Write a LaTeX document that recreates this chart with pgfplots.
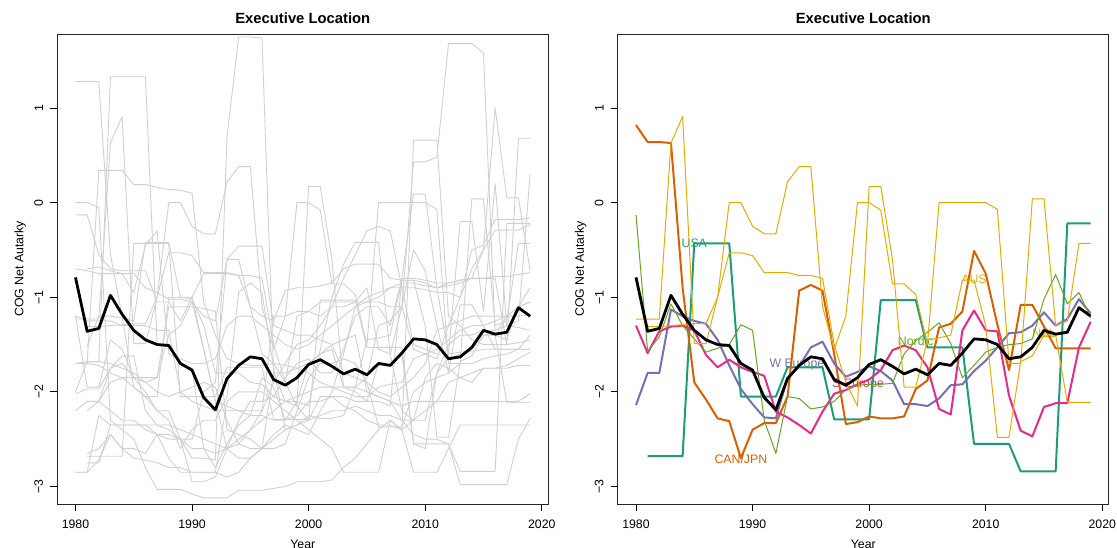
\documentclass[border=0pt]{standalone}
\usepackage{fontspec}
\setmainfont{Liberation Sans}
\usepackage{pgfplots}
\usepackage{pgfplotstable}
\pgfplotsset{compat=1.18}

\definecolor{usa}{HTML}{1B9E77}
\definecolor{canjpn}{HTML}{D95F02}
\definecolor{weur}{HTML}{7570B3}
\definecolor{seur}{HTML}{E7298A}
\definecolor{nordic}{HTML}{66A61E}
\definecolor{ausnzl}{HTML}{E6AB02}
\definecolor{cntry}{HTML}{D0D0D0}

% group and country series
\pgfplotstableread[row sep=\\]{x y\\1980 -0.79\\1981 -1.36\\1982 -1.33\\1983 -0.98\\1984 -1.18\\1985 -1.35\\1986 -1.45\\1987 -1.50\\1988 -1.51\\1989 -1.70\\1990 -1.77\\1991 -2.06\\1992 -2.19\\1993 -1.86\\1994 -1.72\\1995 -1.63\\1996 -1.65\\1997 -1.87\\1998 -1.93\\1999 -1.85\\2000 -1.71\\2001 -1.66\\2002 -1.73\\2003 -1.81\\2004 -1.76\\2005 -1.82\\2006 -1.70\\2007 -1.72\\2008 -1.59\\2009 -1.44\\2010 -1.45\\2011 -1.50\\2012 -1.65\\2013 -1.63\\2014 -1.53\\2015 -1.35\\2016 -1.39\\2017 -1.37\\2018 -1.11\\2019 -1.20\\}\meanline
\pgfplotstableread[row sep=\\]{x y\\1981 -2.68\\1982 -2.68\\1983 -2.68\\1984 -2.68\\1985 -0.43\\1986 -0.43\\1987 -0.43\\1988 -0.43\\1989 -2.05\\1990 -2.05\\1991 -2.05\\1992 -2.05\\1993 -1.74\\1994 -1.74\\1995 -1.74\\1996 -1.74\\1997 -2.29\\1998 -2.29\\1999 -2.29\\2000 -2.29\\2001 -1.03\\2002 -1.03\\2003 -1.03\\2004 -1.03\\2005 -1.53\\2006 -1.53\\2007 -1.53\\2008 -1.53\\2009 -2.55\\2010 -2.55\\2011 -2.55\\2012 -2.55\\2013 -2.84\\2014 -2.84\\2015 -2.84\\2016 -2.84\\2017 -0.22\\2018 -0.22\\2019 -0.22\\}\usa
\pgfplotstableread[row sep=\\]{x y\\1980 -1.23\\1981 -1.23\\1982 -1.23\\1983 0.63\\1984 0.91\\1985 -1.49\\1986 -1.49\\1987 -1.00\\1988 -0.53\\1989 -0.53\\1990 -0.56\\1991 -0.74\\1992 -0.74\\1993 -0.74\\1994 -0.77\\1995 -0.77\\1996 -0.80\\1997 -1.50\\1998 -1.90\\1999 -2.15\\2000 0.17\\2001 0.17\\2002 -0.60\\2003 -1.95\\2004 -1.95\\2005 -1.45\\2006 -1.43\\2007 -1.40\\2008 -0.82\\2009 -0.82\\2010 -1.30\\2011 -2.48\\2012 -2.48\\2013 -1.68\\2014 -1.62\\2015 -1.40\\2016 -1.40\\2017 -2.11\\2018 -2.11\\2019 -2.11\\}\aus
\pgfplotstableread[row sep=\\]{x y\\1981 -1.31\\1982 -1.31\\1983 -1.30\\1984 -1.29\\1985 -1.28\\1986 -1.28\\1987 -1.00\\1988 0.00\\1989 0.00\\1990 -0.25\\1991 -0.33\\1992 -0.33\\1993 0.22\\1994 0.38\\1995 0.38\\1996 -1.10\\1997 -1.55\\1998 -1.20\\1999 0.00\\2000 0.00\\2001 -0.08\\2002 -0.86\\2003 -0.86\\2004 -0.97\\2005 -1.50\\2006 0.00\\2007 0.00\\2008 0.00\\2009 0.00\\2010 0.00\\2011 -0.07\\2012 -1.70\\2013 -1.70\\2014 0.04\\2015 0.04\\2016 -1.30\\2017 -1.25\\2018 -0.43\\2019 -0.43\\}\nzl
\pgfplotstableread[row sep=\\]{x y\\1980 0.82\\1981 0.64\\1982 0.64\\1983 0.63\\1984 -0.90\\1985 -1.90\\1986 -2.08\\1987 -2.28\\1988 -2.31\\1989 -2.70\\1990 -2.40\\1991 -2.33\\1992 -2.33\\1993 -2.05\\1994 -0.93\\1995 -0.87\\1996 -0.93\\1997 -1.60\\1998 -2.34\\1999 -2.32\\2000 -2.26\\2001 -2.28\\2002 -2.28\\2003 -2.26\\2004 -1.97\\2005 -1.88\\2006 -1.32\\2007 -1.28\\2008 -1.15\\2009 -0.51\\2010 -0.75\\2011 -1.29\\2012 -1.77\\2013 -1.08\\2014 -1.08\\2015 -1.31\\2016 -1.54\\2017 -1.54\\2018 -1.54\\2019 -1.54\\}\canjpn
\pgfplotstableread[row sep=\\]{x y\\1980 -2.14\\1981 -1.80\\1982 -1.80\\1983 -1.13\\1984 -1.20\\1985 -1.25\\1986 -1.28\\1987 -1.45\\1988 -1.72\\1989 -1.97\\1990 -2.13\\1991 -2.27\\1992 -2.28\\1993 -1.85\\1994 -1.73\\1995 -1.53\\1996 -1.47\\1997 -1.70\\1998 -1.84\\1999 -1.79\\2000 -1.73\\2001 -1.78\\2002 -1.88\\2003 -2.13\\2004 -2.13\\2005 -2.15\\2006 -2.07\\2007 -1.93\\2008 -1.92\\2009 -1.78\\2010 -1.67\\2011 -1.53\\2012 -1.38\\2013 -1.37\\2014 -1.30\\2015 -1.16\\2016 -1.30\\2017 -1.23\\2018 -1.02\\2019 -1.17\\}\weur
\pgfplotstableread[row sep=\\]{x y\\1980 -1.30\\1981 -1.59\\1982 -1.36\\1983 -1.31\\1984 -1.30\\1985 -1.35\\1986 -1.61\\1987 -1.74\\1988 -1.66\\1989 -1.74\\1990 -1.79\\1991 -1.83\\1992 -2.21\\1993 -2.27\\1994 -2.35\\1995 -2.44\\1996 -2.21\\1997 -2.02\\1998 -1.98\\1999 -1.92\\2000 -1.87\\2001 -1.77\\2002 -1.56\\2003 -1.51\\2004 -1.56\\2005 -1.74\\2006 -2.18\\2007 -2.24\\2008 -1.35\\2009 -1.14\\2010 -1.35\\2011 -1.36\\2012 -2.04\\2013 -2.41\\2014 -2.47\\2015 -2.16\\2016 -2.12\\2017 -2.12\\2018 -1.53\\2019 -1.26\\}\seur
\pgfplotstableread[row sep=\\]{x y\\1980 -0.13\\1981 -1.57\\1982 -1.42\\1983 -1.07\\1984 -1.30\\1985 -1.44\\1986 -1.58\\1987 -1.54\\1988 -1.50\\1989 -1.29\\1990 -1.35\\1991 -2.30\\1992 -2.65\\1993 -2.05\\1994 -2.07\\1995 -2.18\\1996 -2.16\\1997 -2.10\\1998 -1.98\\1999 -1.93\\2000 -1.92\\2001 -1.92\\2002 -1.91\\2003 -1.60\\2004 -1.46\\2005 -1.37\\2006 -1.27\\2007 -1.49\\2008 -1.85\\2009 -1.72\\2010 -1.58\\2011 -1.53\\2012 -1.50\\2013 -1.49\\2014 -1.44\\2015 -1.02\\2016 -0.76\\2017 -1.07\\2018 -0.95\\2019 -1.22\\}\nordic

\pgfplotsset{
  rpanel/.style={
    width=491pt, height=470pt, scale only axis,
    xmin=1978.44, xmax=2020.56, ymin=-3.185, ymax=1.782,
    axis line style={line width=0.9pt, black!85},
    xtick={1980,1990,2000,2010,2020}, ytick={-3,-2,-1,0,1},
    xticklabels={1980,1990,2000,2010,2020},
    yticklabels={−3,−2,−1,0,1},
    tick align=outside, tickpos=left, major tick length=7pt,
    tick style={line width=0.9pt, black},
    ticklabel style={font=\fontsize{12.3}{14}\selectfont, inner sep=0pt},
    xticklabel style={anchor=north},
    yticklabel style={rotate=90, anchor=south},
    xticklabel shift=9pt, yticklabel shift=7pt,
    title={Executive Location},
    every axis title/.style={at={(axis description cs:0.5,1.022)}, anchor=base,
      font=\bfseries\fontsize{14.8}{17}\selectfont},
    xlabel={Year}, ylabel={COG Net Autarky},
    every axis x label/.style={at={(axis description cs:0.5,-0.094)}, anchor=base,
      font=\fontsize{12.3}{14}\selectfont},
    every axis y label/.style={at={(axis description cs:-0.0692,0.5)}, rotate=90,
      anchor=base, font=\fontsize{12.3}{14}\selectfont},
    clip=true, unbounded coords=jump,
  },
  gl/.style={cntry, line width=0.9pt, line join=round},
  thk/.style={line width=2pt, line join=round},
  thn/.style={line width=1pt, line join=round},
  mn/.style={black, line width=2.8pt, line join=round},
}

\begin{document}
\begin{tikzpicture}
\useasboundingbox (0,0) rectangle (1117pt,548pt);

% ---- left: every country in grey ----
\begin{axis}[rpanel, at={(57.3pt,44pt)}, anchor=south west]
\addplot[gl] table {\aus};
\addplot[gl] table {\nzl};
\addplot[gl] table {\usa};
\addplot[gl] coordinates {(1980,1.28)(1981,1.28)(1982,1.28)(1983,-0.55)(1984,-1.20)(1985,-1.95)(1986,-2.05)(1987,-2.20)(1988,-2.30)(1989,-2.60)(1990,-2.40)(1991,-2.30)(1992,-2.30)(1993,-2.05)(1994,-0.95)(1995,-0.85)(1996,-0.95)(1997,-1.75)(1998,-2.40)(1999,-2.35)(2000,-2.25)(2001,-2.28)(2002,-2.28)(2003,-2.25)(2004,-1.95)(2005,-1.85)(2006,-1.30)(2007,-1.25)(2008,-1.10)(2009,-0.50)(2010,-0.72)(2011,-1.30)(2012,-1.80)(2013,-1.08)(2014,-1.08)(2015,-1.30)(2016,-1.55)(2017,-1.55)(2018,-1.55)(2019,-1.55)};
\addplot[gl] coordinates {(1980,-1.70)(1981,-1.68)(1982,-1.68)(1983,1.33)(1984,1.33)(1985,1.33)(1986,1.33)(1987,-1.50)(1988,-1.52)(1989,-1.70)(1990,-1.75)(1991,-2.60)(1992,-2.80)(1993,-2.55)(1994,-2.35)(1995,-2.25)(1996,-1.85)(1997,-1.95)(1998,-2.30)(1999,-2.10)(2000,-1.70)(2001,-1.60)(2002,-1.55)(2003,-1.95)(2004,-2.00)(2005,-2.10)(2006,-1.70)(2007,-1.72)(2008,-1.60)(2009,-2.55)(2010,-2.60)(2011,-1.80)(2012,-1.65)(2013,-1.60)(2014,-1.55)(2015,-1.40)(2016,-1.40)(2017,-1.20)(2018,-1.10)(2019,-1.05)};
\addplot[gl] coordinates {(1980,-2.02)(1981,-1.97)(1982,-1.97)(1983,-1.75)(1984,-1.70)(1985,-1.85)(1986,-2.00)(1987,-2.20)(1988,-2.20)(1989,-2.50)(1990,-2.70)(1991,-2.70)(1992,-2.72)(1993,0.70)(1994,1.75)(1995,1.75)(1996,1.74)(1997,-1.80)(1998,-2.10)(1999,-2.15)(2000,-2.30)(2001,-2.05)(2002,-2.05)(2003,-2.15)(2004,-2.20)(2005,-2.30)(2006,-2.35)(2007,-2.35)(2008,-2.40)(2009,-2.30)(2010,-1.85)(2011,-1.70)(2012,-1.75)(2013,-1.85)(2014,-1.90)(2015,-1.75)(2016,-1.75)(2017,-1.72)(2018,-1.65)(2019,-1.58)};
\addplot[gl] coordinates {(1980,-1.20)(1981,-1.95)(1982,-1.95)(1983,-1.45)(1984,-1.55)(1985,-1.85)(1986,-1.90)(1987,-1.85)(1988,-1.40)(1989,-1.30)(1990,-1.05)(1991,-1.20)(1992,-1.25)(1993,-0.60)(1994,-0.60)(1995,-1.10)(1996,-1.60)(1997,-1.70)(1998,-1.90)(1999,-1.20)(2000,-1.15)(2001,-1.20)(2002,-1.10)(2003,-1.10)(2004,-1.05)(2005,-0.90)(2006,-1.55)(2007,-1.60)(2008,-1.10)(2009,0.43)(2010,0.43)(2011,0.48)(2012,1.68)(2013,1.68)(2014,1.68)(2015,1.58)(2016,-1.40)(2017,-1.45)(2018,-1.10)(2019,-0.90)};
\addplot[gl] coordinates {(1980,-2.85)(1981,-2.85)(1982,-2.72)(1983,-2.45)(1984,-2.60)(1985,-2.60)(1986,-2.65)(1987,-2.45)(1988,-2.45)(1989,-2.50)(1990,-2.95)(1991,-2.95)(1992,-2.90)(1993,-2.60)(1994,-2.30)(1995,-2.10)(1996,-2.10)(1997,-2.05)(1998,-1.85)(1999,-1.70)(2000,-1.65)(2001,-1.80)(2002,-1.80)(2003,-1.55)(2004,-1.20)(2005,-1.10)(2006,-1.10)(2007,-1.30)(2008,-0.80)(2009,-0.80)(2010,-0.82)(2011,-0.85)(2012,-0.85)(2013,-0.82)(2014,-0.80)(2015,-0.50)(2016,1.00)(2017,0.05)(2018,0.05)(2019,-0.72)};
\addplot[gl] coordinates {(1980,-0.13)(1981,-0.13)(1982,-0.55)(1983,-0.70)(1984,-0.72)(1985,-0.72)(1986,-0.72)(1987,-1.05)(1988,-1.05)(1989,-1.25)(1990,-1.00)(1991,-0.75)(1992,-0.75)(1993,-0.75)(1994,-0.77)(1995,-1.10)(1996,-1.20)(1997,-1.25)(1998,-0.93)(1999,-0.90)(2000,-0.90)(2001,-0.88)(2002,-0.85)(2003,-0.70)(2004,-0.65)(2005,-0.65)(2006,-0.65)(2007,-0.80)(2008,-0.82)(2009,-0.82)(2010,-0.85)(2011,-0.90)(2012,-0.88)(2013,-0.85)(2014,-0.80)(2015,-0.80)(2016,-0.80)(2017,-1.50)(2018,0.68)(2019,0.68)};
\addplot[gl] coordinates {(1980,0.00)(1981,0.00)(1982,-0.05)(1983,-2.30)(1984,-2.40)(1985,-2.50)(1986,-2.80)(1987,-3.03)(1988,-3.03)(1989,-3.03)(1990,-3.08)(1991,-3.12)(1992,-3.12)(1993,-3.12)(1994,-3.04)(1995,-3.04)(1996,-3.04)(1997,-3.02)(1998,-3.00)(1999,-2.95)(2000,-2.95)(2001,-2.95)(2002,-2.93)(2003,-2.80)(2004,-2.70)(2005,-2.55)(2006,-2.40)(2007,-2.30)(2008,-2.40)(2009,0.66)(2010,0.66)(2011,0.66)(2012,-1.20)(2013,-1.30)(2014,-1.45)(2015,-1.50)(2016,-1.50)(2017,-1.50)(2018,-1.48)(2019,-1.45)};
\addplot[gl] coordinates {(1980,-1.70)(1981,-1.70)(1982,0.34)(1983,0.34)(1984,0.34)(1985,0.19)(1986,0.19)(1987,0.16)(1988,0.14)(1989,0.13)(1990,0.10)(1991,-1.05)(1992,-1.40)(1993,-1.65)(1994,-1.70)(1995,-1.72)(1996,-1.72)(1997,-1.70)(1998,-1.72)(1999,-1.75)(2000,-1.80)(2001,-1.90)(2002,-1.95)(2003,-2.00)(2004,-2.05)(2005,-2.05)(2006,-1.95)(2007,-1.92)(2008,-1.90)(2009,-1.65)(2010,-1.60)(2011,-1.55)(2012,-1.45)(2013,-1.35)(2014,-1.30)(2015,-1.30)(2016,-1.25)(2017,-1.20)(2018,-1.20)(2019,-1.18)};
\addplot[gl] coordinates {(1980,-2.20)(1981,-2.10)(1982,-2.10)(1983,-1.75)(1984,-1.62)(1985,-1.62)(1986,-2.20)(1987,-2.35)(1988,-2.35)(1989,-2.40)(1990,-2.45)(1991,-2.50)(1992,-2.55)(1993,-2.60)(1994,-2.55)(1995,-2.40)(1996,-2.20)(1997,-1.90)(1998,-1.70)(1999,-1.50)(2000,-1.45)(2001,-1.30)(2002,-1.10)(2003,-0.80)(2004,-0.55)(2005,-0.30)(2006,-0.25)(2007,-0.30)(2008,-0.90)(2009,-1.50)(2010,-1.55)(2011,-1.60)(2012,-1.60)(2013,-1.58)(2014,-1.57)(2015,-1.55)(2016,-1.55)(2017,-1.55)(2018,-1.55)(2019,-1.55)};
\addplot[gl] coordinates {(1981,-1.52)(1982,-1.20)(1983,-1.20)(1984,-1.22)(1985,-1.25)(1986,-0.42)(1987,-0.42)(1988,-0.42)(1989,-1.00)(1990,-1.02)(1991,-1.30)(1992,-1.80)(1993,-1.80)(1994,-1.80)(1995,-1.90)(1996,-1.92)(1997,-2.05)(1998,-2.10)(1999,-2.10)(2000,-2.15)(2001,-1.55)(2002,-1.00)(2003,-0.65)(2004,-0.42)(2005,-0.42)(2006,-0.42)(2007,-1.60)(2008,-2.20)(2009,-2.30)(2010,-2.30)(2011,-1.80)(2012,-1.50)(2013,-1.40)(2014,-1.40)(2015,-1.35)(2016,-1.35)(2017,-1.30)(2018,-1.32)(2019,-1.35)};
\addplot[gl] coordinates {(1980,-1.20)(1981,-1.25)(1982,-1.25)(1983,-1.25)(1984,-1.30)(1985,-1.30)(1986,-1.30)(1987,-1.35)(1988,-1.35)(1989,-2.00)(1990,-2.10)(1991,-2.15)(1992,-2.20)(1993,-2.20)(1994,-2.20)(1995,-2.25)(1996,-2.25)(1997,-2.30)(1998,-2.30)(1999,-2.25)(2000,-2.10)(2001,-2.10)(2002,-2.05)(2003,-2.05)(2004,-2.10)(2005,-2.10)(2006,-2.10)(2007,-2.15)(2008,-0.80)(2009,0.09)(2010,0.09)(2011,-0.90)(2012,-1.60)(2013,-0.20)(2014,-0.20)(2015,-1.15)(2016,0.20)(2017,-1.30)(2018,-1.25)(2019,0.30)};
\addplot[gl] coordinates {(1980,-2.85)(1981,-2.85)(1982,-2.25)(1983,-2.35)(1984,-2.35)(1985,-2.35)(1986,-2.35)(1987,-2.35)(1988,-2.40)(1989,-2.50)(1990,-2.50)(1991,-2.00)(1992,-1.90)(1993,-0.60)(1994,-0.46)(1995,-0.46)(1996,-0.46)(1997,-1.30)(1998,-1.35)(1999,-1.40)(2000,-1.40)(2001,-1.45)(2002,-1.50)(2003,-1.80)(2004,-1.85)(2005,-1.90)(2006,-2.37)(2007,-2.37)(2008,-2.37)(2009,-2.00)(2010,-1.90)(2011,-1.85)(2012,-1.80)(2013,-1.70)(2014,-1.70)(2015,-1.65)(2016,-1.62)(2017,-1.60)(2018,-1.55)(2019,-1.40)};
\addplot[gl] coordinates {(1980,-0.70)(1981,-0.72)(1982,-0.75)(1983,-0.75)(1984,-0.75)(1985,-0.95)(1986,-0.45)(1987,-0.30)(1988,-1.60)(1989,-1.65)(1990,-1.70)(1991,-1.70)(1992,-1.65)(1993,-1.30)(1994,-1.20)(1995,-1.20)(1996,-1.30)(1997,-1.40)(1998,-1.50)(1999,-1.55)(2000,-1.50)(2001,-1.40)(2002,-1.30)(2003,-1.20)(2004,-1.10)(2005,-1.00)(2006,-0.95)(2007,-0.90)(2008,-0.90)(2009,-0.90)(2010,-0.92)(2011,-0.95)(2012,-0.95)(2013,-1.00)(2014,-0.50)(2015,-0.45)(2016,-0.18)(2017,-0.18)(2018,-0.18)(2019,-0.16)};
\addplot[gl] coordinates {(1980,-2.00)(1981,-1.68)(1982,-1.68)(1983,-1.70)(1984,-1.75)(1985,-1.80)(1986,-1.90)(1987,-2.00)(1988,-2.05)(1989,-2.00)(1990,-1.95)(1991,-1.90)(1992,-1.95)(1993,-2.30)(1994,-2.55)(1995,-2.60)(1996,-2.60)(1997,-2.60)(1998,-2.55)(1999,-2.20)(2000,-1.85)(2001,-1.70)(2002,-1.70)(2003,-1.65)(2004,-1.70)(2005,-1.90)(2006,-2.00)(2007,-2.05)(2008,-1.95)(2009,-1.85)(2010,-1.70)(2011,-1.35)(2012,-1.30)(2013,-1.00)(2014,-0.70)(2015,-0.50)(2016,-0.29)(2017,-0.29)(2018,-0.29)(2019,-0.23)};
\addplot[gl] coordinates {(1981,-2.65)(1982,-2.60)(1983,-2.45)(1984,-2.60)(1985,-2.70)(1986,-2.72)(1987,-2.75)(1988,-2.80)(1989,-2.80)(1990,-2.85)(1991,-2.85)(1992,-2.85)(1993,-2.90)(1994,-2.85)(1995,-2.70)(1996,-2.60)(1997,-2.50)(1998,-2.40)(1999,-2.35)(2000,-2.30)(2001,-2.25)(2002,-2.20)(2003,-2.20)(2004,-2.15)(2005,-2.20)(2006,-2.25)(2007,-2.25)(2008,-2.30)(2009,-2.45)(2010,-2.50)(2011,-2.50)(2012,-2.55)(2013,-2.98)(2014,-2.98)(2015,-2.98)(2016,-2.98)(2017,-2.98)(2018,-2.50)(2019,-2.28)};
\addplot[gl] coordinates {(1981,-2.75)(1982,-2.75)(1983,-2.35)(1984,-2.35)(1985,-2.35)(1986,-2.35)(1987,-2.45)(1988,-2.70)(1989,-2.85)(1990,-2.85)(1991,-2.85)(1992,-2.85)(1993,-2.10)(1994,-2.00)(1995,-2.00)(1996,-2.00)(1997,-2.10)(1998,-2.20)(1999,-2.30)(2000,-2.40)(2001,-2.50)(2002,-2.60)(2003,-2.85)(2004,-2.85)(2005,-2.85)(2006,-2.85)(2007,-2.30)(2008,-2.40)(2009,-2.85)(2010,-2.85)(2011,-2.85)(2012,-2.60)(2013,-2.35)(2014,-2.35)(2015,-2.35)(2016,-2.35)(2017,-2.35)(2018,-2.35)(2019,-2.35)};
\addplot[gl] coordinates {(1981,-2.10)(1982,-2.10)(1983,-1.90)(1984,-1.85)(1985,-1.95)(1986,-2.05)(1987,-2.05)(1988,-1.00)(1989,-1.00)(1990,-1.00)(1991,-1.55)(1992,-2.10)(1993,-2.15)(1994,-2.20)(1995,-2.20)(1996,-2.20)(1997,-1.20)(1998,-1.20)(1999,-1.15)(2000,-1.15)(2001,-1.05)(2002,-1.05)(2003,-1.05)(2004,-1.05)(2005,-1.05)(2006,-1.05)(2007,-1.10)(2008,-1.10)(2009,-1.55)(2010,-1.60)(2011,-1.65)(2012,-1.30)(2013,-1.25)(2014,-1.20)(2015,-1.20)(2016,-1.20)(2017,-1.20)(2018,-1.10)(2019,-1.05)};
\addplot[gl] coordinates {(1980,-1.70)(1981,-1.70)(1982,-1.72)(1983,-1.80)(1984,-1.85)(1985,-1.85)(1986,-1.85)(1987,-1.85)(1988,-1.10)(1989,-1.10)(1990,-1.10)(1991,-1.12)(1992,-1.15)(1993,-2.40)(1994,-2.45)(1995,-2.50)(1996,-2.60)(1997,-1.80)(1998,-1.80)(1999,-1.75)(2000,-1.70)(2001,-1.60)(2002,-1.50)(2003,-1.45)(2004,-1.40)(2005,-2.00)(2006,-2.05)(2007,-2.10)(2008,-2.30)(2009,-2.30)(2010,-2.20)(2011,-2.10)(2012,-1.90)(2013,-1.85)(2014,-1.80)(2015,-1.75)(2016,-1.75)(2017,-1.75)(2018,-1.72)(2019,-1.72)};
\addplot[gl] coordinates {(1981,-2.20)(1982,-2.10)(1983,-2.20)(1984,-2.30)(1985,-2.30)(1986,-2.40)(1987,-2.45)(1988,-2.50)(1989,-2.50)(1990,-2.60)(1991,-2.60)(1992,-2.65)(1993,-2.60)(1994,-2.50)(1995,-2.40)(1996,-2.30)(1997,-2.20)(1998,-2.10)(1999,-2.05)(2000,-2.00)(2001,-1.95)(2002,-1.95)(2003,-1.95)(2004,-1.95)(2005,-2.00)(2006,-2.05)(2007,-2.10)(2008,-2.15)(2009,-2.10)(2010,-2.10)(2011,-2.10)(2012,-2.10)(2013,-2.10)(2014,-2.10)(2015,-2.10)(2016,-2.10)(2017,-2.10)(2018,-2.10)(2019,-2.02)};
\addplot[gl] coordinates {(1981,-0.70)(1982,-0.68)(1983,-0.72)(1984,-0.75)(1985,-0.75)(1986,-0.90)(1987,-0.95)(1988,-1.02)(1989,-1.02)(1990,-1.05)(1991,-1.55)(1992,-2.10)(1993,-2.60)(1994,-2.70)(1995,-2.70)(1996,-2.60)(1997,-2.45)(1998,-2.35)(1999,-2.40)(2000,-2.45)(2001,-2.20)(2002,-2.00)(2003,-1.60)(2004,-1.10)(2005,-1.05)(2006,-1.00)(2007,-0.90)(2008,-0.85)(2009,-0.85)(2010,-0.88)(2011,-0.90)(2012,-0.85)(2013,-0.82)(2014,-0.80)(2015,-0.80)(2016,-0.78)(2017,-0.78)(2018,-0.76)(2019,-0.74)};
\addplot[mn] table {\meanline};
\end{axis}

% ---- right: groups in colour ----
\begin{axis}[rpanel, at={(617.8pt,44pt)}, anchor=south west]
\node[usa, font=\fontsize{12.3}{14}\selectfont] at (axis cs:1985.0,-0.43) {USA};
\node[canjpn, font=\fontsize{12.3}{14}\selectfont] at (axis cs:1989.0,-2.71) {CAN/JPN};
\node[weur, font=\fontsize{12.3}{14}\selectfont] at (axis cs:1993.8,-1.71) {W Europe};
\node[seur, font=\fontsize{12.3}{14}\selectfont] at (axis cs:1999.05,-1.92) {S Europe};
\node[nordic, font=\fontsize{12.3}{14}\selectfont] at (axis cs:2004.0,-1.46) {Nordic};
\node[ausnzl, font=\fontsize{12.3}{14}\selectfont] at (axis cs:2009.0,-0.81) {AUS};
\node[ausnzl, font=\fontsize{12.3}{14}\selectfont] at (axis cs:2015.0,-1.38) {NZL};
\addplot[usa, thk] table {\usa};
\addplot[canjpn, thk] table {\canjpn};
\addplot[weur, thk] table {\weur};
\addplot[seur, thk] table {\seur};
\addplot[nordic, thn] table {\nordic};
\addplot[ausnzl, thn] table {\aus};
\addplot[ausnzl, thn] table {\nzl};
\addplot[mn] table {\meanline};
\end{axis}
\end{tikzpicture}
\end{document}
